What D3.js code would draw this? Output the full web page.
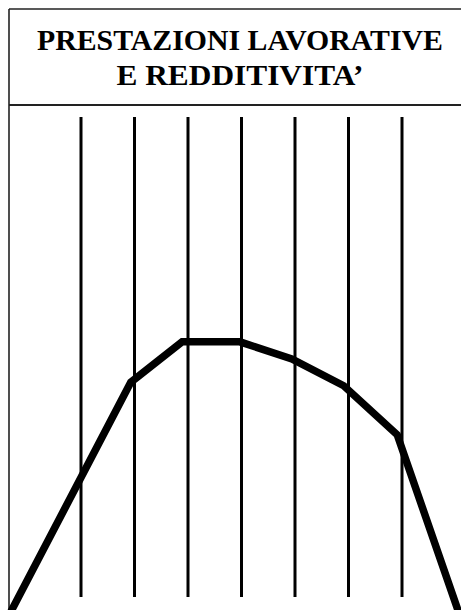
<!DOCTYPE html>
<html>
<head>
<meta charset="utf-8">
<script src="https://cdn.jsdelivr.net/npm/d3@7"></script>
<style>
    html, body { margin: 0; padding: 0; background: #fff; }
    svg { display: block; }
    .title { font-family: "Liberation Serif", "Times New Roman", serif; font-weight: bold; font-size: 29px; fill: #000; }
</style>
</head>
<body>
<svg id="chart" width="461" height="610"></svg>
<script>
// title lines
const titleLines = [ 'PRESTAZIONI LAVORATIVE', 'E REDDITIVITA’' ];

// vertical guide lines (positions in column units)
const gridTicks = [ 1, 2, 3, 4, 5, 6, 7 ];

// curve: column position and level (0-100)
const curveX = [ -0.30, 1.94, 2.90, 3.98, 4.95, 5.92, 6.92, 8.08 ];
const curveY = [ -0.3, 45.1, 53.1, 53.1, 49.7, 44.4, 34.7, -0.8 ];

function drawChart() {
    const svg = d3.select( '#chart' );
    const width = 461;
    const height = 610;

    const box = { left: 9, top: 9, titleBottom: 105, right: 471 };
    const grid = { top: 117, bottom: 597 };
    const titleWidths = [ 406, 247 ]; // stretched like the original lettering

    const xScale = d3.scaleLinear()
        .domain( [ 0, 8 ] )
        .range( [ 27, 455 ] );

    const yScale = d3.scaleLinear()
        .domain( [ 0, 100 ] )
        .range( [ 610, 105 ] );

    // frame of the sheet
    svg.append( 'line' )
        .attr( 'x1', box.left ).attr( 'y1', box.top )
        .attr( 'x2', width + 10 ).attr( 'y2', box.top )
        .attr( 'stroke', '#222' ).attr( 'stroke-width', 1.6 );
    svg.append( 'line' )
        .attr( 'x1', box.left ).attr( 'y1', box.top )
        .attr( 'x2', box.left ).attr( 'y2', height + 10 )
        .attr( 'stroke', '#222' ).attr( 'stroke-width', 1.6 );
    svg.append( 'line' )
        .attr( 'x1', box.left ).attr( 'y1', box.titleBottom )
        .attr( 'x2', width + 10 ).attr( 'y2', box.titleBottom )
        .attr( 'stroke', '#222' ).attr( 'stroke-width', 2.2 );

    // title
    const cx = ( box.left + box.right ) / 2;
    svg.selectAll( 'text.title' ).data( titleLines )
        .enter().append( 'text' )
        .attr( 'class', 'title' )
        .attr( 'x', ( d, i ) => cx - titleWidths[ i ] / 2 )
        .attr( 'y', ( d, i ) => 50 + i * 35 )
        .attr( 'textLength', ( d, i ) => titleWidths[ i ] )
        .attr( 'lengthAdjust', 'spacingAndGlyphs' )
        .text( d => d );

    // vertical guides via an axis with long ticks
    const xAxis = d3.axisBottom( xScale )
        .tickValues( gridTicks )
        .tickSize( -( grid.bottom - grid.top ) )
        .tickFormat( '' );

    const axisGroup = svg.append( 'g' )
        .attr( 'class', 'x-axis' )
        .attr( 'transform', `translate(0,${grid.bottom})` )
        .call( xAxis );
    axisGroup.select( '.domain' ).remove();
    axisGroup.selectAll( '.tick line' )
        .attr( 'stroke', '#000' )
        .attr( 'stroke-width', 3 );

    // the curve
    const points = curveX.map( ( x, i ) => ( { x, y: curveY[ i ] } ) );
    const line = d3.line()
        .x( d => xScale( d.x ) )
        .y( d => yScale( d.y ) );

    svg.append( 'path' )
        .datum( points )
        .attr( 'd', line )
        .attr( 'fill', 'none' )
        .attr( 'stroke', '#000' )
        .attr( 'stroke-width', 7.5 )
        .attr( 'stroke-linejoin', 'miter' );
}

drawChart();
</script>
</body>
</html>
